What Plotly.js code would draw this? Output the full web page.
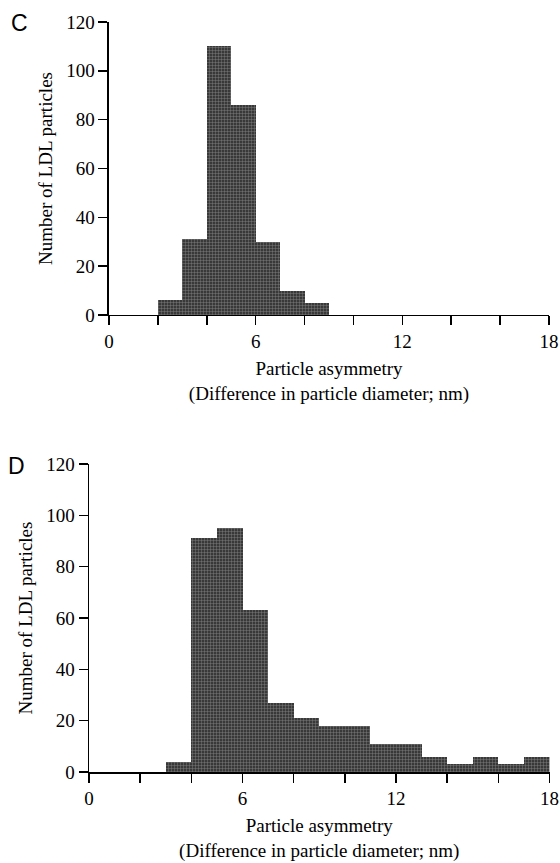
<!DOCTYPE html>
<html>
<head>
<meta charset="utf-8">
<script src="https://cdn.plot.ly/plotly-3.0.1.min.js"></script>
<style>
html,body{margin:0;padding:0;background:#fff;}
#chart{width:560px;height:863px;}
</style>
</head>
<body>
<div id="chart"></div>
<script>
// Panel C: bin start (nm) and counts
const binsC = [2, 3, 4, 5, 6, 7, 8];
const countsC = [6, 31, 110, 86, 30, 10, 5];
// Panel D: bin start (nm) and counts
const binsD = [3, 4, 5, 6, 7, 8, 9, 10, 11, 12, 13, 14, 15, 16, 17];
const countsD = [4, 91, 95, 63, 27, 21, 18, 18, 11, 11, 6, 3, 6, 3, 6];

const xTickVals = [0, 2, 4, 6, 8, 10, 12, 14, 16, 18];
const xTickText = ['0', '', '', '6', '', '', '12', '', '', '18'];
const yTickVals = [0, 20, 40, 60, 80, 100, 120];
const panelLabels = ['C', 'D'];
const xTitle = 'Particle asymmetry<br>(Difference in particle diameter; nm)';
const yTitle = 'Number of LDL particles';

const serif = 'Liberation Serif, Times New Roman, Times, serif';
const barMarker = {
  color: '#383838',
  line: {width: 0},
  pattern: {shape: '+', fgcolor: '#8a8a8a', bgcolor: '#383838', size: 3, solidity: 0.25}
};

const traces = [
  {type: 'bar', x: binsC, y: countsC, width: 1, offset: 0, xaxis: 'x', yaxis: 'y', marker: barMarker, hoverinfo: 'skip'},
  {type: 'bar', x: binsD, y: countsD, width: 1, offset: 0, xaxis: 'x2', yaxis: 'y2', marker: barMarker, hoverinfo: 'skip'}
];

function xAxis(domain, anchor) {
  return {
    domain: domain, anchor: anchor, range: [0, 18],
    showline: true, linecolor: '#000', linewidth: 1.5,
    ticks: 'outside', ticklen: 9, tickwidth: 1.5, tickcolor: '#000',
    tickmode: 'array', tickvals: xTickVals, ticktext: xTickText,
    ticklabeloverflow: 'allow',
    showgrid: false, zeroline: false,
    tickfont: {family: serif, size: 19, color: '#000'},
    title: {text: xTitle, font: {family: serif, size: 19, color: '#000'}, standoff: 10},
    fixedrange: true
  };
}
function yAxis(domain, anchor) {
  return {
    domain: domain, anchor: anchor, range: [0, 120],
    showline: true, linecolor: '#000', linewidth: 1.5,
    ticks: 'outside', ticklen: 9, tickwidth: 1.5, tickcolor: '#000',
    tickmode: 'array', tickvals: yTickVals,
    ticklabeloverflow: 'allow',
    showgrid: false, zeroline: false,
    tickfont: {family: serif, size: 19, color: '#000'},
    title: {text: yTitle, font: {family: serif, size: 19, color: '#000'}, standoff: 8},
    fixedrange: true
  };
}

const layout = {
  width: 560, height: 863,
  margin: {l: 0, r: 0, t: 0, b: 0},
  font: {family: serif, color: '#000'},
  paper_bgcolor: '#fff', plot_bgcolor: '#fff',
  showlegend: false, bargap: 0,
  xaxis: xAxis([0.1946, 0.9804], 'y'),
  yaxis: yAxis([0.635, 0.9745], 'x'),
  xaxis2: xAxis([89 / 560, 549.5 / 560], 'y2'),
  yaxis2: yAxis([0.1054, 0.4623], 'x2'),
  annotations: [
    {text: panelLabels[0], xref: 'paper', yref: 'paper', x: 19 / 560, y: 1 - 23 / 863, xanchor: 'center', yanchor: 'middle', showarrow: false, font: {family: 'Liberation Sans, Arial, sans-serif', size: 23, color: '#000'}},
    {text: panelLabels[1], xref: 'paper', yref: 'paper', x: 16 / 560, y: 1 - 466 / 863, xanchor: 'center', yanchor: 'middle', showarrow: false, font: {family: 'Liberation Sans, Arial, sans-serif', size: 23, color: '#000'}}
  ]
};

Plotly.newPlot('chart', traces, layout, {staticPlot: true, displayModeBar: false});
</script>
</body>
</html>
